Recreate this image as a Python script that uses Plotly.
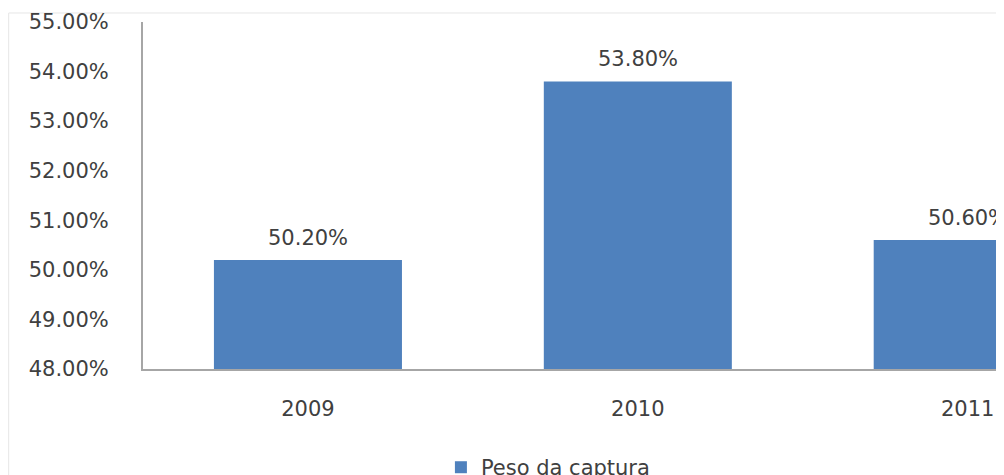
import plotly.graph_objects as go

years = ["2009", "2010", "2011"]
peso = [50.2, 53.8, 50.6]
y_ticks = [48, 49, 50, 51, 52, 53, 54, 55]
y_tick_labels = ["48.00%", "49.00%", "50.00%", "51.00%", "52.00%", "53.00%", "54.00%", "55.00%"]

bar_color = "#4F81BD"
text_color = "#404040"
font_family = "DejaVu Sans"

fig = go.Figure(go.Bar(
    x=years,
    y=peso,
    name="Peso da captura",
    marker=dict(color=bar_color, line=dict(width=0)),
    width=0.57,
))

# value labels above the bars (x as category index)
for i, val in enumerate(peso):
    fig.add_annotation(x=i, y=val, text="%.2f%%" % val, showarrow=False,
                       yshift=22, font=dict(size=21, color=text_color, family=font_family))

# faint chart border
fig.add_shape(type="rect", xref="paper", yref="paper",
              x0=-0.156, x1=1.2, y0=-0.6, y1=1.026,
              line=dict(color="#e6e6e6", width=1), layer="below")

# page body has an 8px margin, so the figure is sized to fit the window
fig.update_layout(
    width=996, height=467,
    margin=dict(l=135, r=0, t=14, b=106, autoexpand=False),
    paper_bgcolor="white", plot_bgcolor="white",
    font=dict(family=font_family, size=21, color=text_color),
    showlegend=True,
    legend=dict(orientation="h", x=0.346, xanchor="left", y=-0.225, yanchor="top",
                font=dict(size=21, color=text_color), bgcolor="rgba(0,0,0,0)"),
    xaxis=dict(type="category", range=[-0.5, 2.11], showline=True, linecolor="#a6a6a6",
               linewidth=2, ticks="", ticklabelstandoff=20, showgrid=False, fixedrange=True),
    yaxis=dict(range=[48, 55], tickvals=y_ticks, ticktext=y_tick_labels,
               showline=True, linecolor="#a6a6a6", linewidth=2, ticks="",
               ticklabelstandoff=28, showgrid=False, zeroline=False, fixedrange=True),
)

fig.write_html("out.html")
